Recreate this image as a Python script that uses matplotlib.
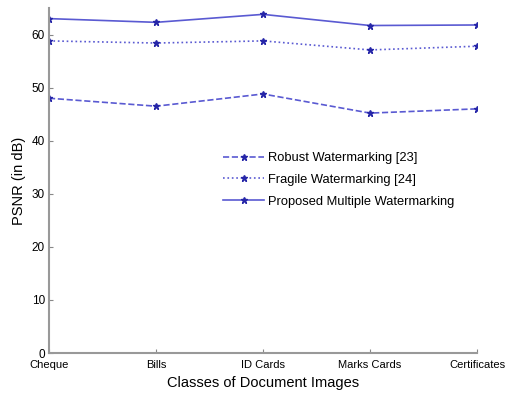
import numpy as np
import matplotlib
matplotlib.use('Agg')
import matplotlib.pyplot as plt

plt.rcParams['font.family'] = ['Liberation Sans', 'DejaVu Sans']

classes = ['Cheque', 'Bills', 'ID Cards', 'Marks Cards', 'Certificates']
robust = [48.0, 46.5, 48.8, 45.2, 46.0]
fragile = [58.8, 58.4, 58.8, 57.1, 57.8]
proposed = [63.0, 62.3, 63.8, 61.7, 61.8]
labels = ['Robust Watermarking [23]', 'Fragile Watermarking [24]',
          'Proposed Multiple Watermarking']

line_col = '#5a5ad2'
mark_col = '#2626a8'

fig = plt.figure(figsize=(5.09, 3.96), dpi=100)
ax = fig.add_axes([49 / 509, 1 - 353 / 396, 428 / 509, 345 / 396])

x = np.arange(len(classes))
styles = ['--', ':', '-']
for ys, ls, lab in zip([robust, fragile, proposed], styles, labels):
    ax.plot(x, ys, linestyle=ls, color=line_col, lw=1.2, marker='*',
            markersize=5, markerfacecolor=mark_col, markeredgecolor=mark_col,
            label=lab)

ax.set_xlim(0, len(classes) - 1)
ax.set_ylim(0, 65)
ax.set_xticks(x)
ax.set_xticklabels(classes, fontsize=8)
ax.set_yticks(np.arange(0, 61, 10))
ax.tick_params(axis='y', labelsize=8.5, direction='in', length=3, color='#888888', pad=3)
ax.tick_params(axis='x', direction='in', length=3, color='#888888', pad=5)

for side in ['top', 'right']:
    ax.spines[side].set_visible(False)
for side in ['left', 'bottom']:
    ax.spines[side].set_color('#999999')
    ax.spines[side].set_linewidth(1.5)

ax.set_xlabel('Classes of Document Images', fontsize=10.5, labelpad=4)
ax.set_ylabel('PSNR (in dB)', fontsize=10.5, labelpad=4)

ax.legend(loc='upper left', bbox_to_anchor=(223 / 509, 1 - 152 / 396),
          bbox_transform=fig.transFigure, frameon=False, fontsize=9.3,
          handlelength=3.2, handletextpad=0.3, labelspacing=0.75,
          borderpad=0, borderaxespad=0)

fig.savefig('out.png', dpi=100)
